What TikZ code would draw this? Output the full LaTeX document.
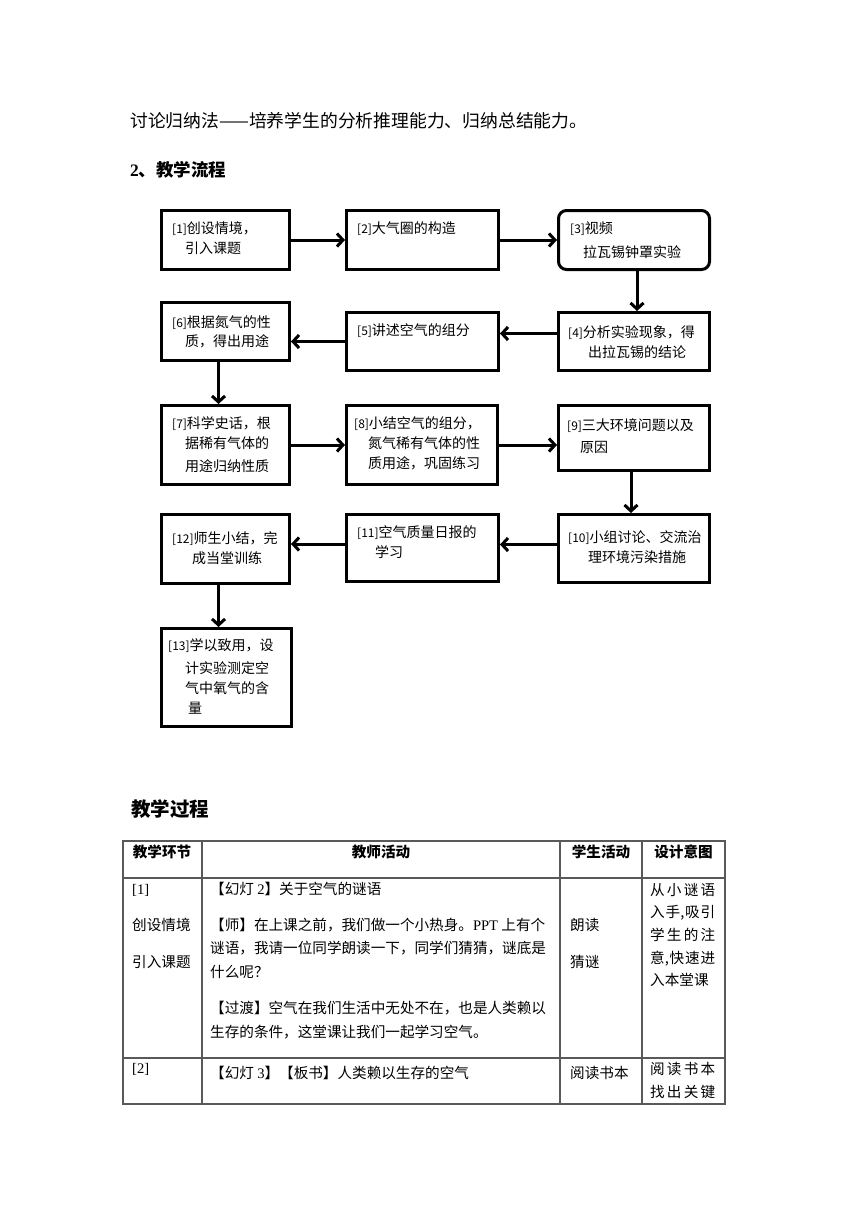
\documentclass[tikz,border=0pt]{standalone}
\usepackage{fontspec}
\setmainfont{Noto Sans CJK SC}
\newfontfamily\lser{Liberation Serif}
\usetikzlibrary{arrows.meta}
\newcommand{\bn}[1]{{\fontsize{12pt}{12pt}\selectfont[#1]}}
\newcommand{\tnum}[1]{{\lser #1}}
\newcommand{\spr}[4]{\makebox[65pt][l]{#1\hfill #2\hfill #3\hfill #4}}
\begin{document}
\begin{tikzpicture}[x=1pt,y=-1pt,
  fbox/.style={draw=black, line width=3pt, anchor=north west, inner sep=0pt},
  arr/.style={line width=3pt, -{Straight Barb[length=6pt,width=13pt]}},
  ft/.style={anchor=base west, inner sep=0pt, font=\fontsize{14pt}{16pt}\selectfont},
  tt/.style={anchor=base west, inner sep=0pt, font=\fontsize{14.6pt}{17pt}\selectfont},
  th/.style={anchor=base, inner sep=0pt, font=\fontsize{14.6pt}{17pt}\selectfont\bfseries},
  tl/.style={draw=black!65, line width=1.2pt}
]
\useasboundingbox[fill=white] (0,0) rectangle (860,1216);

% top text
\node[anchor=base west, inner sep=0pt, font=\fontsize{17.8pt}{20pt}\selectfont] (intro) at (130,127) {讨论归纳法——培养学生的分析推理能力、归纳总结能力。};
\node[anchor=base west, inner sep=0pt, font=\fontsize{17.5pt}{20pt}\selectfont\bfseries] (h2) at (130,176.5) {{\lser\bfseries 2}、教学流程};

% flowchart boxes
\node[fbox, minimum width=128pt, minimum height=59pt] (n1) at (160,209) {};
\node[fbox, minimum width=152pt, minimum height=59pt] (n2) at (345,209) {};
\node[fbox, minimum width=151pt, minimum height=59pt, rounded corners=8pt] (n3) at (557,209) {};
\node[fbox, minimum width=151pt, minimum height=58pt] (n4) at (557,311) {};
\node[fbox, minimum width=152pt, minimum height=58pt] (n5) at (345,311) {};
\node[fbox, minimum width=128pt, minimum height=58pt] (n6) at (160,301) {};
\node[fbox, minimum width=128pt, minimum height=79pt] (n7) at (160,404) {};
\node[fbox, minimum width=151pt, minimum height=79pt] (n8) at (345,404) {};
\node[fbox, minimum width=151pt, minimum height=65pt] (n9) at (557,404) {};
\node[fbox, minimum width=151pt, minimum height=68pt] (n10) at (557,513) {};
\node[fbox, minimum width=152pt, minimum height=67pt] (n11) at (345,513) {};
\node[fbox, minimum width=128pt, minimum height=69pt] (n12) at (160,513) {};
\node[fbox, minimum width=130pt, minimum height=98pt] (n13) at (160,627) {};

% box texts
\node[ft] (t1a) at (172,233) {\bn{1}创设情境，};
\node[ft] (t1b) at (185,253) {引入课题};
\node[ft] (t2a) at (357,233) {\bn{2}大气圈的构造};
\node[ft] (t3a) at (570,233) {\bn{3}视频};
\node[ft] (t3b) at (583,257) {拉瓦锡钟罩实验};
\node[ft] (t4a) at (568,337) {\bn{4}分析实验现象，得};
\node[ft] (t4b) at (588,357) {出拉瓦锡的结论};
\node[ft] (t5a) at (357,335) {\bn{5}讲述空气的组分};
\node[ft] (t6a) at (172,327) {\bn{6}根据氮气的性};
\node[ft] (t6b) at (185,346) {质，得出用途};
\node[ft] (t7a) at (172,428) {\bn{7}科学史话，根};
\node[ft] (t7b) at (185,448) {据稀有气体的};
\node[ft] (t7c) at (185,471) {用途归纳性质};
\node[ft] (t8a) at (354,428) {\bn{8}小结空气的组分，};
\node[ft] (t8b) at (368,448) {氮气稀有气体的性};
\node[ft] (t8c) at (368,468) {质用途，巩固练习};
\node[ft] (t9a) at (567,430) {\bn{9}三大环境问题以及};
\node[ft] (t9b) at (580,452) {原因};
\node[ft] (t10a) at (568,542) {\bn{10}小组讨论、交流治};
\node[ft] (t10b) at (588,562) {理环境污染措施};
\node[ft] (t11a) at (357,537) {\bn{11}空气质量日报的};
\node[ft] (t11b) at (375,557) {学习};
\node[ft] (t12a) at (172,543) {\bn{12}师生小结，完};
\node[ft] (t12b) at (192,563) {成当堂训练};
\node[ft] (t13a) at (168,650) {\bn{13}学以致用，设};
\node[ft] (t13b) at (185,673) {计实验测定空};
\node[ft] (t13c) at (185,693) {气中氧气的含};
\node[ft] (t13d) at (188,713) {量};

% connectors
\draw[arr] (n1.east) -- (n2.west);
\draw[arr] (n2.east) -- (n3.west);
\draw[arr] ([xshift=3pt]n3.south) -- ([xshift=3pt]n4.north);
\draw[arr] ([yshift=8pt]n4.west) -- ([yshift=8pt]n5.east);
\draw[arr] (n5.west) -- (n5.west -| n6.east);
\draw[arr] ([xshift=-7pt]n6.south) -- ([xshift=-7pt]n6.south |- n7.north);
\draw[arr] (n7.east) -- (n8.west);
\draw[arr] (n8.east) -- (n8.east -| n9.west);
\draw[arr] ([xshift=-3pt]n9.south) -- ([xshift=-3pt]n9.south |- n10.north);
\draw[arr] ([yshift=4pt]n10.west) -- ([yshift=4pt]n10.west -| n11.east);
\draw[arr] ([yshift=4pt]n11.west) -- ([yshift=4pt]n11.west -| n12.east);
\draw[arr] ([xshift=-7pt]n12.south) -- ([xshift=-7pt]n12.south |- n13.north);

% heading
\node[anchor=base west, inner sep=0pt, font=\fontsize{19.5pt}{22pt}\selectfont\bfseries] (h3) at (131,816) {教学过程};

% table grid
\draw[tl] (123,841) rectangle (725,1104);
\draw[tl] (123,878) -- (725,878);
\draw[tl] (123,1058) -- (725,1058);
\draw[tl] (202,841) -- (202,1104);
\draw[tl] (560,841) -- (560,1104);
\draw[tl] (642,841) -- (642,1104);

% header
\node[th] (hc1) at (162,857.5) {教学环节};
\node[th] (hc2) at (381,857.5) {教师活动};
\node[th] (hc3) at (601,857.5) {学生活动};
\node[th] (hc4) at (683.5,857.5) {设计意图};

% row 1
\node[tt] (r1a) at (132,894.5) {\tnum{[1]}};
\node[tt] (r1b) at (132,930.5) {创设情境};
\node[tt] (r1c) at (132,967.5) {引入课题};
\node[tt] (r1d) at (210,894.5) {【幻灯 \tnum{2}】关于空气的谜语};
\node[tt] (r1e) at (210,930.5) {【师】在上课之前，我们做一个小热身。\tnum{PPT} 上有个};
\node[tt] (r1f) at (210,953.5) {谜语，我请一位同学朗读一下，同学们猜猜，谜底是};
\node[tt] (r1g) at (210,977.5) {什么呢？};
\node[tt] (r1h) at (210,1013.5) {【过渡】空气在我们生活中无处不在，也是人类赖以};
\node[tt] (r1i) at (210,1037.5) {生存的条件，这堂课让我们一起学习空气。};
\node[tt] (r1j) at (570,930.5) {朗读};
\node[tt] (r1k) at (570,967.5) {猜谜};
\node[tt] (r1l) at (650,895.5) {\spr{从}{小}{谜}{语}};
\node[tt] (r1m) at (650,917.5) {\makebox[65pt][l]{入\hfill 手,\hfill 吸\hfill 引}};
\node[tt] (r1n) at (650,940.5) {\spr{学}{生}{的}{注}};
\node[tt] (r1o) at (650,963.5) {\makebox[65pt][l]{意,\hfill 快\hfill 速\hfill 进}};
\node[tt] (r1p) at (650,985.5) {入本堂课};

% row 2
\node[tt] (r2a) at (132,1073.5) {\tnum{[2]}};
\node[tt] (r2b) at (210,1078.5) {【幻灯 \tnum{3}】【板书】人类赖以生存的空气};
\node[tt] (r2c) at (570,1078.5) {阅读书本};
\node[tt] (r2d) at (650,1074.5) {\spr{阅}{读}{书}{本}};
\node[tt] (r2e) at (650,1097.5) {\spr{找}{出}{关}{键}};
\end{tikzpicture}
\end{document}
